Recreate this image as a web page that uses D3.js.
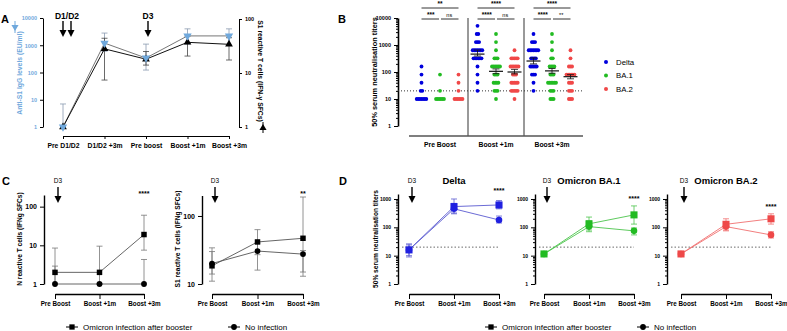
<!DOCTYPE html>
<html>
<head>
<meta charset="utf-8">
<script src="https://cdn.jsdelivr.net/npm/d3@7"></script>
<style>
  body { margin: 0; background: #fff; }
  svg { font-family: "Liberation Sans", Arial, sans-serif; }
</style>
</head>
<body>
<div id="viz"></div>
<script>
let w = 787;
let h = 331;
let font = "Liberation Sans, Arial, sans-serif";

// ---------------- DATA ----------------
// panel A
let aTimes = ["Pre D1/D2", "D1/D2 +3m", "Pre boost", "Boost +1m", "Boost +3m"];
let aIgG = [1, 1200, 340, 2200, 2200];
let aIgGErr = [[1, 7], [600, 2800], [123, 1100], [1100, 4000], [1000, 4000]];
let aTcell = [1, 28, 18, 37, 34];
let aTcellErr = [[1, 1], [7.4, 44], [14, 25], [20.6, 48], [17.4, 45]];

// panel B (counts of sera per two-fold dilution level)
let bLevels = [10, 20, 40, 80, 160, 320, 640, 1280, 2560, 5120];
let bGroups = ["Pre Boost", "Boost +1m", "Boost +3m"];
let bVariants = ["Delta", "BA.1", "BA.2"];
let bDelta = [[7, 2, 1, 1, 1, 0, 0, 0, 0, 0], [0, 1, 1, 1, 1, 6, 7, 3, 2, 1], [0, 1, 1, 3, 5, 4, 7, 3, 1, 0]];
let bBA1 = [[6, 1, 0, 1, 0, 0, 0, 0, 0, 0], [1, 3, 4, 3, 6, 3, 1, 1, 1, 0], [3, 3, 6, 3, 4, 2, 1, 1, 1, 0]];
let bBA2 = [[6, 1, 1, 1, 0, 0, 0, 0, 0, 0], [1, 5, 5, 3, 6, 5, 1, 0, 0, 0], [3, 3, 3, 6, 3, 1, 1, 0, 0, 0]];
let bDeltaMean = [null, 460, 255];
let bDeltaSem = [null, [390, 650], [200, 330]];
let bBA1Mean = [null, 106, 110];
let bBA1Sem = [null, [87, 130], [90, 135]];
let bBA2Mean = [null, 100, 67];
let bBA2Sem = [null, [85, 125], [56, 80]];
let bSigTop = ["**", "****", "****"];
let bSigPair = [["***", "ns"], ["****", "ns"], ["****", "**"]];

// panels C and D
let cTimes = ["Pre Boost", "Boost +1m", "Boost +3m"];
let cNOmicron = [2, 2, 19];
let cNOmicronErr = [[1, 8.5], [1, 9.5], [7.5, 60]];
let cNNone = [1, 1, 1];
let cNNoneErr = [[1, 2.9], [1, 1], [1, 4.3]];
let cSOmicron = [18.5, 41.5, 47];
let cSOmicronErr = [[11, 34], [27, 63], [15, 190]];
let cSNone = [20, 30.5, 27.5];
let cSNoneErr = [[14, 30], [16, 40], [13, 31]];

let dDeltaOmi = [16, 540, 616];
let dDeltaOmiErr = [[9, 26], [300, 1000], [450, 880]];
let dDeltaNone = [16, 450, 182];
let dDeltaNoneErr = [[10, 24], [320, 700], [142, 250]];
let dBA1Omi = [11.5, 133, 275];
let dBA1OmiErr = [[10, 13], [80, 230], [130, 570]];
let dBA1None = [11.5, 106, 75];
let dBA1NoneErr = [[10, 13], [70, 170], [54, 95]];
let dBA2Omi = [11.5, 128, 200];
let dBA2OmiErr = [[10, 13], [80, 200], [130, 300]];
let dBA2None = [11.5, 106, 54];
let dBA2NoneErr = [[10, 13], [75, 140], [42, 70]];

let legendLabels = ["Omicron infection after booster", "No infection"];

// ---------------- SVG ----------------
let svg = d3.select("#viz")
  .append("svg")
    .attr("width", w)
    .attr("height", h)
;

function styleAxis(g, size, color, weight) {
  g.selectAll("text")
    .style("font-size", size + "px")
    .style("font-family", font)
    .style("font-weight", weight || "bold")
    .attr("fill", color || "#000");
  g.selectAll("line, path").attr("stroke", "#000").attr("stroke-width", 1);
}

function minorTicks(scale, x) {
  let dom = scale.domain();
  let vals = [];
  for (let d = 1; d < dom[1]; d *= 10) {
    for (let k = 2; k < 10; k++) {
      if (d * k >= dom[0] && d * k <= dom[1]) vals.push(d * k);
    }
  }
  let g = svg.append("g").attr("transform", "translate(" + x + ",0)")
    .call(d3.axisLeft(scale).tickValues(vals).tickSize(2).tickFormat(function(){ return ""; }));
  g.select(".domain").remove();
  g.selectAll("line").attr("stroke", "#000");
}

function text(x, y, str, size, opts) {
  opts = opts || {};
  return svg.append("text")
    .attr("x", x).attr("y", y)
    .attr("text-anchor", opts.anchor || "middle")
    .attr("fill", opts.color || "#000")
    .style("font-size", size + "px")
    .style("font-weight", opts.weight || "normal")
    .text(str);
}

function arrow(x, y1, y2) {
  svg.append("line")
    .attr("x1", x).attr("x2", x).attr("y1", y1).attr("y2", y2 - 5)
    .attr("stroke", "#000").attr("stroke-width", 1.4);
  svg.append("path")
    .attr("d", "M" + (x - 3.5) + "," + (y2 - 7) + "L" + (x + 3.5) + "," + (y2 - 7) + "L" + x + "," + y2 + "Z")
    .attr("fill", "#000");
}

function errBar(x, yScale, lo, hi, color, cap) {
  svg.append("line")
    .attr("x1", x).attr("x2", x).attr("y1", yScale(lo)).attr("y2", yScale(hi))
    .attr("stroke", color).attr("stroke-width", 0.8);
  [lo, hi].forEach(function(v){
    svg.append("line")
      .attr("x1", x - cap).attr("x2", x + cap).attr("y1", yScale(v)).attr("y2", yScale(v))
      .attr("stroke", color).attr("stroke-width", 0.8);
  });
}

function marker(x, y, type, size, color, rotate) {
  svg.append("path")
    .attr("d", d3.symbol().type(type).size(size)())
    .attr("transform", "translate(" + x + "," + y + ")" + (rotate ? " rotate(180)" : ""))
    .attr("fill", color);
}

// ---------------- PANEL A ----------------
text(1, 23, "A", 11, {anchor: "start", weight: "bold"});

let axA = d3.scalePoint().domain(aTimes).range([63, 229]);
let ayL = d3.scaleLog().domain([1, 10000]).range([127, 18]);
let ayR = d3.scaleLog().domain([1, 100]).range([127, 19]);

let gAL = svg.append("g").attr("transform", "translate(43,0)")
  .call(d3.axisLeft(ayL).tickValues([1, 10, 100, 1000, 10000]).tickFormat(d3.format("d")).tickSize(3).tickSizeOuter(0));
styleAxis(gAL, 5.5, "#6fa8dc");
let gAR = svg.append("g").attr("transform", "translate(239,0)")
  .call(d3.axisRight(ayR).tickValues([1, 10, 100]).tickFormat(d3.format("d")).tickSize(3).tickSizeOuter(0));
styleAxis(gAR, 5.5);
let gAX = svg.append("g").attr("transform", "translate(0,136)")
  .call(d3.axisBottom(axA).tickSize(3).tickSizeOuter(0).tickPadding(4));
styleAxis(gAX, 6.8);

text(20, 73, "Anti-S1 IgG levels (EU/ml)", 6.8, {color: "#6fa8dc", weight: "bold"})
  .attr("transform", "rotate(-90,20,73)").attr("dy", "0.35em");
svg.append("line").attr("x1", 15).attr("x2", 15).attr("y1", 21).attr("y2", 33).attr("stroke", "#6fa8dc").attr("stroke-width", 1);
marker(15, 27, d3.symbolTriangle, 22, "#6fa8dc", true);
text(260, 71, "S1 reactive T cells (IFN-\u03b3 SFCs)", 6.8, {weight: "bold"})
  .attr("transform", "rotate(90,260,71)").attr("dy", "0.35em");
svg.append("line").attr("x1", 263).attr("x2", 263).attr("y1", 122).attr("y2", 133).attr("stroke", "#000").attr("stroke-width", 1);
marker(263, 128, d3.symbolTriangle, 22, "#000");

// error bars
aTimes.forEach(function(t, i){
  errBar(axA(t), ayL, aIgGErr[i][0], aIgGErr[i][1], "#8a9bb0", 3);
  errBar(axA(t), ayR, aTcellErr[i][0], aTcellErr[i][1], "#444", 3);
});
let lineAL = d3.line().x(function(d, i){ return axA(aTimes[i]); }).y(function(d){ return ayL(d); });
let lineAR = d3.line().x(function(d, i){ return axA(aTimes[i]); }).y(function(d){ return ayR(d); });
svg.append("path").attr("d", lineAL(aIgG)).attr("fill", "none").attr("stroke", "#777").attr("stroke-width", 1);
svg.append("path").attr("d", lineAR(aTcell)).attr("fill", "none").attr("stroke", "#111").attr("stroke-width", 1);
aTimes.forEach(function(t, i){
  marker(axA(t), ayR(aTcell[i]), d3.symbolTriangle, 26, "#000");
  marker(axA(t), ayL(aIgG[i]), d3.symbolTriangle, 30, "#6fa8dc", true);
});

text(67, 18.5, "D1/D2", 8.5, {weight: "bold"});
arrow(63, 21, 37);
arrow(71, 21, 37);
text(148, 18.5, "D3", 8.5, {weight: "bold"});
arrow(148, 21, 37);

// ---------------- PANEL B ----------------
text(338, 23, "B", 11, {anchor: "start", weight: "bold"});

let bColors = ["#0000dd", "#22bb22", "#f04848"];
let bx = d3.scaleBand().domain(bGroups).range([412, 580]);
let bxIn = d3.scalePoint().domain(bVariants).range([-18.5, 18.5]);
let by = d3.scaleLog().domain([1, 10000]).range([126, 18]);

minorTicks(by, 398);
let gBY = svg.append("g").attr("transform", "translate(398,0)")
  .call(d3.axisLeft(by).tickValues([1, 10, 100, 1000, 10000]).tickFormat(d3.format("d")).tickSize(4).tickSizeOuter(0));
styleAxis(gBY, 5.5);
gBY.select(".domain").attr("stroke-width", 1.6);

let gBX = svg.append("g").attr("transform", "translate(0,136)")
  .call(d3.axisBottom(bx).tickSize(0).tickSizeOuter(0).tickPadding(6));
styleAxis(gBX, 6.8);
gBX.select(".domain").attr("d", "M409,0H583").attr("stroke-width", 1.2);

[bGroups[1], bGroups[2]].forEach(function(g){
  svg.append("line")
    .attr("x1", bx(g)).attr("x2", bx(g)).attr("y1", 18).attr("y2", 136)
    .attr("stroke", "#555").attr("stroke-width", 1.2);
});

svg.append("line")
  .attr("x1", 398).attr("x2", 583).attr("y1", by(20)).attr("y2", by(20))
  .attr("stroke", "#333").attr("stroke-width", 1).attr("stroke-dasharray", "1,2");

text(374, 72, "50% serum neutralisation titers", 7.4, {weight: "bold"})
  .attr("transform", "rotate(-90,374,72)").attr("dy", "0.35em");

let bCounts = [bDelta, bBA1, bBA2];
let bMeans = [bDeltaMean, bBA1Mean, bBA2Mean];
let bSems = [bDeltaSem, bBA1Sem, bBA2Sem];
bGroups.forEach(function(g, gi){
  let cx = bx(g) + bx.bandwidth() / 2;
  bVariants.forEach(function(v, vi){
    let x0 = cx + bxIn(v);
    bCounts[vi][gi].forEach(function(n, li){
      for (let k = 0; k < n; k++) {
        svg.append("circle")
          .attr("cx", x0 + (k - (n - 1) / 2) * 1.6)
          .attr("cy", by(bLevels[li]))
          .attr("r", 1.9)
          .attr("fill", bColors[vi]);
      }
    });
    if (bMeans[vi][gi] != null) {
      let m = by(bMeans[vi][gi]);
      svg.append("line").attr("x1", x0 - 7).attr("x2", x0 + 7).attr("y1", m).attr("y2", m)
        .attr("stroke", "#111").attr("stroke-width", 1.2);
      errBar(x0, by, bSems[vi][gi][0], bSems[vi][gi][1], "#111", 3.5);
    }
  });
  // significance brackets
  let xa = cx + bxIn("Delta"), xb = cx + bxIn("BA.1"), xc = cx + bxIn("BA.2");
  svg.append("line").attr("x1", xa).attr("x2", xc).attr("y1", 8).attr("y2", 8).attr("stroke", "#000").attr("stroke-width", 0.8);
  text((xa + xc) / 2, 5.5, bSigTop[gi], 6.5, {weight: "bold"});
  svg.append("line").attr("x1", xa).attr("x2", xb - 1).attr("y1", 19).attr("y2", 19).attr("stroke", "#000").attr("stroke-width", 0.8);
  svg.append("line").attr("x1", xb + 1).attr("x2", xc).attr("y1", 19).attr("y2", 19).attr("stroke", "#000").attr("stroke-width", 0.8);
  text((xa + xb) / 2, 16.5, bSigPair[gi][0], 6.5, {weight: "bold"});
  text((xb + xc) / 2, 16.5, bSigPair[gi][1], 5.5);
});

bVariants.forEach(function(v, vi){
  let y = 62 + vi * 13.5;
  svg.append("circle").attr("cx", 606).attr("cy", y).attr("r", 2).attr("fill", bColors[vi]);
  text(616, y, v, 7.8, {anchor: "start"}).attr("dy", "0.35em");
});

// ---------------- PANELS C & D ----------------
function timePanel(opt) {
  let x = d3.scalePoint().domain(cTimes).range(opt.xr);
  let y = d3.scaleLog().domain(opt.dom).range([284, opt.top]);
  if (opt.minor) minorTicks(y, opt.ax);
  let gy = svg.append("g").attr("transform", "translate(" + opt.ax + ",0)")
    .call(d3.axisLeft(y).tickValues(opt.ticks).tickFormat(d3.format("d")).tickSize(4).tickSizeOuter(0));
  styleAxis(gy, opt.minor ? 5 : 7);
  gy.select(".domain").attr("stroke-width", 1.4);
  let gx = svg.append("g").attr("transform", "translate(0,294)")
    .call(d3.axisBottom(x).tickSize(5).tickSizeOuter(0).tickPadding(3));
  styleAxis(gx, 6.3);
  gx.select(".domain").attr("stroke-width", 1.4);

  if (opt.dotted) {
    svg.append("line")
      .attr("x1", opt.ax + 4).attr("x2", opt.xr[1]).attr("y1", y(20)).attr("y2", y(20))
      .attr("stroke", "#444").attr("stroke-width", 0.8).attr("stroke-dasharray", "1.5,2");
  }
  if (opt.ytitle) {
    text(opt.tx, 239, opt.ytitle, 6.6, {weight: "bold"})
      .attr("transform", "rotate(-90," + opt.tx + ",239)").attr("dy", "0.35em");
  }
  if (opt.title) text((opt.xr[0] + opt.xr[1]) / 2, 184, opt.title, 9.5, {weight: "bold"});
  text(opt.xr[0] + 3, 183, "D3", 6.5);
  arrow(opt.xr[0] + 3, 187, 203);
  text(opt.xr[1], opt.starY, opt.star, 7, {weight: "bold"});

  let line = d3.line().x(function(d, i){ return x(cTimes[i]); }).y(function(d){ return y(d); });
  opt.series.forEach(function(s){
    cTimes.forEach(function(t, i){
      errBar(x(t), y, Math.max(s.err[i][0], opt.dom[0]), s.err[i][1], s.errColor, 3);
    });
    svg.append("path").attr("d", line(s.vals)).attr("fill", "none")
      .attr("stroke", s.lineColor).attr("stroke-width", 0.9);
  });
  opt.series.forEach(function(s){
    cTimes.forEach(function(t, i){
      marker(x(t), y(s.vals[i]), s.shape, s.size, s.color);
    });
  });
}

text(2, 185, "C", 11, {anchor: "start", weight: "bold"});
text(339, 185, "D", 11, {anchor: "start", weight: "bold"});

timePanel({ax: 44, xr: [55, 144], dom: [1, 200], top: 195, ticks: [1, 10, 100], minor: false,
  ytitle: "N reactive T cells (IFNg SFCs)", tx: 20, star: "****", starY: 196,
  series: [
    {vals: cNNone, err: cNNoneErr, shape: d3.symbolCircle, size: 26, color: "#000", lineColor: "#555", errColor: "#777"},
    {vals: cNOmicron, err: cNOmicronErr, shape: d3.symbolSquare, size: 30, color: "#000", lineColor: "#555", errColor: "#777"}
  ]});
timePanel({ax: 202, xr: [212, 303], dom: [10, 200], top: 195.5, ticks: [10, 100], minor: false,
  ytitle: "S1 reactive T cells (IFNg SFCs)", tx: 178, star: "**", starY: 196,
  series: [
    {vals: cSNone, err: cSNoneErr, shape: d3.symbolCircle, size: 26, color: "#000", lineColor: "#555", errColor: "#777"},
    {vals: cSOmicron, err: cSOmicronErr, shape: d3.symbolSquare, size: 30, color: "#000", lineColor: "#555", errColor: "#777"}
  ]});

let dPanels = [
  {ax: 398, xr: [409, 499], title: "Delta", ytitle: "50% serum neutralisation titers", starY: 193,
   omi: dDeltaOmi, omiErr: dDeltaOmiErr, none: dDeltaNone, noneErr: dDeltaNoneErr, color: "#2020e0", line: "#5a5ad0"},
  {ax: 535, xr: [544, 634], title: "Omicron BA.1", ytitle: null, starY: 201,
   omi: dBA1Omi, omiErr: dBA1OmiErr, none: dBA1None, noneErr: dBA1NoneErr, color: "#22bb22", line: "#4cc44c"},
  {ax: 667, xr: [681, 771], title: "Omicron BA.2", ytitle: null, starY: 209,
   omi: dBA2Omi, omiErr: dBA2OmiErr, none: dBA2None, noneErr: dBA2NoneErr, color: "#ee4848", line: "#f07070"}
];
dPanels.forEach(function(p){
  timePanel({ax: p.ax, xr: p.xr, dom: [1, 1500], top: 194, ticks: [1, 10, 100, 1000], minor: true,
    ytitle: p.ytitle, tx: 376, title: p.title, star: "****", starY: p.starY, dotted: true,
    series: [
      {vals: p.none, err: p.noneErr, shape: d3.symbolCircle, size: 34, color: p.color, lineColor: p.line, errColor: p.line},
      {vals: p.omi, err: p.omiErr, shape: d3.symbolSquare, size: 50, color: p.color, lineColor: p.line, errColor: p.line}
    ]});
});

// legends
function legend(xSq, xCirc, y) {
  svg.append("line").attr("x1", xSq - 6).attr("x2", xSq + 6).attr("y1", y).attr("y2", y).attr("stroke", "#000");
  marker(xSq, y, d3.symbolSquare, 28, "#000");
  text(xSq + 11, y, legendLabels[0], 8, {anchor: "start"}).attr("dy", "0.35em");
  svg.append("line").attr("x1", xCirc - 6).attr("x2", xCirc + 6).attr("y1", y).attr("y2", y).attr("stroke", "#000");
  marker(xCirc, y, d3.symbolCircle, 26, "#000");
  text(xCirc + 11, y, legendLabels[1], 8, {anchor: "start"}).attr("dy", "0.35em");
}
legend(72, 234, 327);
legend(491, 643, 327);
</script>
</body>
</html>
